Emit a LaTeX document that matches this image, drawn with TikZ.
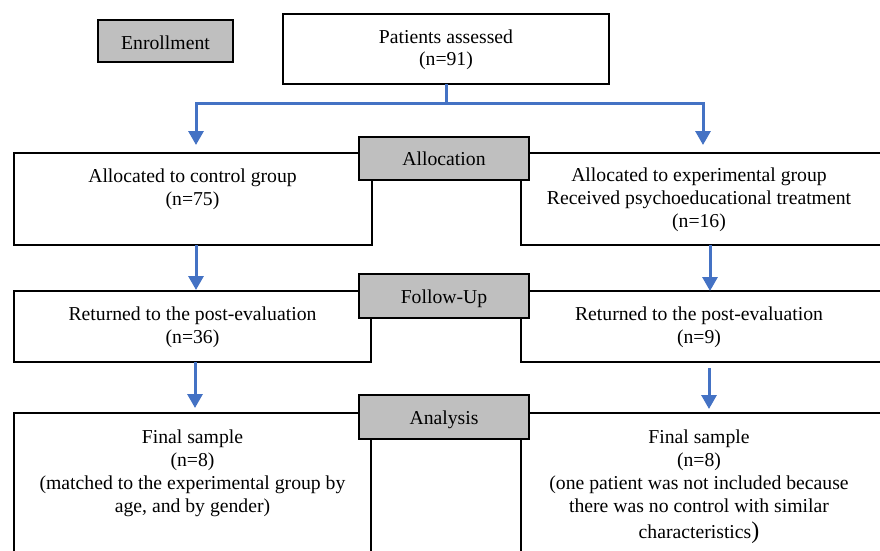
\documentclass[tikz,border=0pt]{standalone}
\usepackage{fontspec}
\setmainfont{Liberation Serif}
\usetikzlibrary{arrows.meta}
\definecolor{boxgray}{RGB}{191,191,191}
\definecolor{arrblue}{RGB}{68,114,196}
\begin{document}
\begin{tikzpicture}[x=1pt,y=-1pt,
  box/.style={draw, line width=1.4pt, fill=white, anchor=north west, inner sep=0pt, outer sep=0pt},
  stagebox/.style={draw, line width=2.2pt, fill=boxgray, anchor=north west, inner sep=0pt, outer sep=0pt,
     minimum width=170pt, minimum height=44pt, text height=14pt, text depth=0pt,
     font=\fontsize{19.7}{22.8}\selectfont},
  txt/.style={align=center, anchor=base, inner sep=0pt, font=\fontsize{19.7}{22.8}\selectfont},
  arr/.style={draw=arrblue, line width=3pt, -{Triangle[length=14pt,width=15pt]}}]
\useasboundingbox (0,0) rectangle (880,551);
\clip (0,0) rectangle (880,551);
\fill[white] (0,0) rectangle (880,551);
% white boxes
\node[box, minimum width=326pt, minimum height=70pt] (ass) at (283,14) {};
\node[box, minimum width=358pt, minimum height=92pt] (c1) at (14,153) {};
\node[box, minimum width=400pt, minimum height=92pt] (e1) at (521,153) {};
\node[box, minimum width=357pt, minimum height=71pt] (c2) at (14,291) {};
\node[box, minimum width=400pt, minimum height=71pt] (e2) at (521,291) {};
\node[box, minimum width=357pt, minimum height=200pt] (c3) at (14,413) {};
\node[box, minimum width=400pt, minimum height=200pt] (e3) at (521,413) {};
% stage boxes
\node[stagebox, minimum width=135pt, minimum height=42pt, text height=18pt] (enr) at (98,20) {Enrollment};
\node[stagebox, minimum height=43pt] (alloc) at (359,137) {Allocation};
\node[stagebox] (fu) at (359,274) {Follow-Up};
\node[stagebox] (an) at (359,395) {Analysis};
% texts (anchor = baseline of the last line)
\node[txt] (tass) at (446,66) {Patients assessed\\(n=91)};
\node[txt] (tc1) at (192.5,205) {Allocated to control group\\(n=75)};
\node[txt] (te1) at (699,227) {Allocated to experimental group\\Received psychoeducational treatment\\(n=16)};
\node[txt] (tc2) at (192.5,343) {Returned to the post-evaluation\\(n=36)};
\node[txt] (te2) at (699,343) {Returned to the post-evaluation\\(n=9)};
\node[txt] (tc3) at (192.5,512) {Final sample\\(n=8)\\(matched to the experimental group by\\age, and by gender)};
\node[txt] (te3) at (699,538) {Final sample\\(n=8)\\(one patient was not included because\\there was no control with similar\\[3pt]characteristics{\fontsize{24}{24}\selectfont)}};
% connectors
\coordinate (j) at (ass.south |- 0,103);
\coordinate (a1) at (196,145);
\coordinate (a2) at (703,145);
\draw[arr] (ass.south) -- (j) -| (a1);
\draw[arr] (j) -| (a2);
\coordinate (b1) at (196,290);
\coordinate (b2) at (710,291);
\draw[arr] (b1 |- c1.south) -- (b1);
\draw[arr] (b2 |- e1.south) -- (b2);
\coordinate (d1) at (195,408);
\coordinate (d2) at (709,409);
\draw[arr] (d1 |- c2.south) -- (d1);
\draw[arr] (709,368) -- (d2);
\end{tikzpicture}
\end{document}
